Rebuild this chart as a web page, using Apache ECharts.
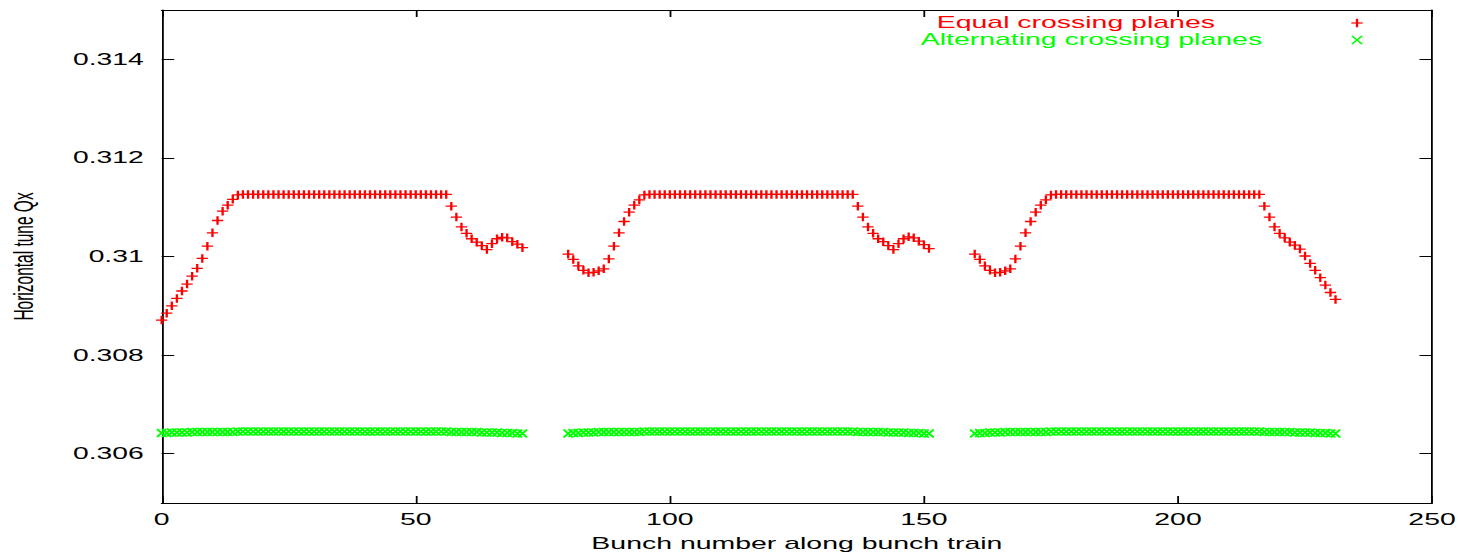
<!DOCTYPE html>
<html><head><meta charset="utf-8">
<script src="https://cdn.jsdelivr.net/npm/echarts@6/dist/echarts.min.js"></script>
<style>
html,body{margin:0;padding:0;background:#fff;overflow:hidden;}
#wrap{width:1458px;height:553px;overflow:hidden;position:relative;background:#fff;}
#chart{width:810px;height:553px;transform:scaleX(1.8);transform-origin:0 0;}
</style></head><body><div id="wrap"><div id="chart"></div></div>
<script>
// ---------------- data ----------------
const seriesNames = ['Equal crossing planes', 'Alternating crossing planes'];
const trainStarts = [0, 80, 160];

const equalTrain1 = [
  0.30871,0.30885,0.30900,0.30915,0.30930,0.30944,0.30960,0.30976,0.30996,0.31021,0.31048,0.31073,
  0.31092,0.31104,0.31116,0.31125,0.31126,0.31126,0.31126,0.31126,0.31126,0.31126,0.31126,0.31126,
  0.31126,0.31126,0.31126,0.31126,0.31126,0.31126,0.31126,0.31126,0.31126,0.31126,0.31126,0.31126,
  0.31126,0.31126,0.31126,0.31126,0.31126,0.31126,0.31126,0.31126,0.31126,0.31126,0.31126,0.31126,
  0.31126,0.31126,0.31126,0.31126,0.31126,0.31126,0.31126,0.31126,0.31126,0.31102,0.31080,0.31060,
  0.31047,0.31036,0.31029,0.31022,0.31014,0.31026,0.31036,0.31039,0.31038,0.31030,0.31025,0.31018
];
const equalTrain2 = [
  0.31005,0.30994,0.30981,0.30972,0.30967,0.30968,0.30971,0.30975,0.30995,0.31021,0.31048,0.31071,
  0.31090,0.31104,0.31115,0.31125,0.31126,0.31126,0.31126,0.31126,0.31126,0.31126,0.31126,0.31126,
  0.31126,0.31126,0.31126,0.31126,0.31126,0.31126,0.31126,0.31126,0.31126,0.31126,0.31126,0.31126,
  0.31126,0.31126,0.31126,0.31126,0.31126,0.31126,0.31126,0.31126,0.31126,0.31126,0.31126,0.31126,
  0.31126,0.31126,0.31126,0.31126,0.31126,0.31126,0.31126,0.31126,0.31126,0.31102,0.31080,0.31060,
  0.31047,0.31036,0.31030,0.31022,0.31014,0.31026,0.31036,0.31040,0.31038,0.31031,0.31024,0.31016
];
const equalTrain3 = [
  0.31005,0.30994,0.30981,0.30972,0.30967,0.30968,0.30971,0.30975,0.30995,0.31021,0.31048,0.31071,
  0.31090,0.31104,0.31115,0.31125,0.31126,0.31126,0.31126,0.31126,0.31126,0.31126,0.31126,0.31126,
  0.31126,0.31126,0.31126,0.31126,0.31126,0.31126,0.31126,0.31126,0.31126,0.31126,0.31126,0.31126,
  0.31126,0.31126,0.31126,0.31126,0.31126,0.31126,0.31126,0.31126,0.31126,0.31126,0.31126,0.31126,
  0.31126,0.31126,0.31126,0.31126,0.31126,0.31126,0.31126,0.31126,0.31126,0.31102,0.31080,0.31060,
  0.31047,0.31038,0.31029,0.31023,0.31015,0.31001,0.30986,0.30972,0.30957,0.30942,0.30927,0.30913
];

const altTrain1 = [
  0.30642,0.30642,0.30643,0.30643,0.30643,0.30643,0.30644,0.30644,0.30644,0.30644,0.30644,0.30644,
  0.30644,0.30644,0.30644,0.30645,0.30645,0.30645,0.30645,0.30645,0.30645,0.30645,0.30645,0.30645,
  0.30645,0.30645,0.30645,0.30645,0.30645,0.30645,0.30645,0.30645,0.30645,0.30645,0.30645,0.30645,
  0.30645,0.30645,0.30645,0.30645,0.30645,0.30645,0.30645,0.30645,0.30645,0.30645,0.30645,0.30645,
  0.30645,0.30645,0.30645,0.30645,0.30645,0.30645,0.30645,0.30645,0.30645,0.30644,0.30644,0.30644,
  0.30644,0.30644,0.30644,0.30643,0.30643,0.30643,0.30643,0.30642,0.30642,0.30642,0.30641,0.30641
];
const altTrain2 = [
  0.30641,0.30642,0.30642,0.30643,0.30643,0.30643,0.30644,0.30644,0.30644,0.30644,0.30644,0.30644,
  0.30644,0.30644,0.30644,0.30645,0.30645,0.30645,0.30645,0.30645,0.30645,0.30645,0.30645,0.30645,
  0.30645,0.30645,0.30645,0.30645,0.30645,0.30645,0.30645,0.30645,0.30645,0.30645,0.30645,0.30645,
  0.30645,0.30645,0.30645,0.30645,0.30645,0.30645,0.30645,0.30645,0.30645,0.30645,0.30645,0.30645,
  0.30645,0.30645,0.30645,0.30645,0.30645,0.30645,0.30645,0.30645,0.30645,0.30644,0.30644,0.30644,
  0.30644,0.30644,0.30644,0.30643,0.30643,0.30643,0.30643,0.30642,0.30642,0.30642,0.30641,0.30641
];
const altTrain3 = [
  0.30641,0.30642,0.30642,0.30643,0.30643,0.30643,0.30644,0.30644,0.30644,0.30644,0.30644,0.30644,
  0.30644,0.30644,0.30644,0.30645,0.30645,0.30645,0.30645,0.30645,0.30645,0.30645,0.30645,0.30645,
  0.30645,0.30645,0.30645,0.30645,0.30645,0.30645,0.30645,0.30645,0.30645,0.30645,0.30645,0.30645,
  0.30645,0.30645,0.30645,0.30645,0.30645,0.30645,0.30645,0.30645,0.30645,0.30645,0.30645,0.30645,
  0.30645,0.30645,0.30645,0.30645,0.30645,0.30645,0.30645,0.30645,0.30645,0.30644,0.30644,0.30644,
  0.30644,0.30644,0.30644,0.30643,0.30643,0.30643,0.30643,0.30642,0.30642,0.30642,0.30641,0.30641
];

const yTickValues = [0.306, 0.308, 0.310, 0.312, 0.314];
const xTickValues = [0, 50, 100, 150, 200, 250];
const xAxisTitle = 'Bunch number along bunch train';
const yAxisTitle = 'Horizontal tune Qx';

// ---------------- build ----------------
function toPoints(start, values) { return values.map((v, i) => [start + i, v]); }
const equalData = [].concat(
  toPoints(trainStarts[0], equalTrain1),
  toPoints(trainStarts[1], equalTrain2),
  toPoints(trainStarts[2], equalTrain3));
const altData = [].concat(
  toPoints(trainStarts[0], altTrain1),
  toPoints(trainStarts[1], altTrain2),
  toPoints(trainStarts[2], altTrain3));

const FONT = '"Liberation Sans", Arial, Helvetica, sans-serif';
const RED = '#ff0000', GREEN = '#00ff00';
const PLUS = 'path://M0,3.4H6.3V4.6H0Z M2.5,0H3.8V8H2.5Z';
const CROSS = 'path://M0,0L1.6,0L10,8.6L10,10L8.4,10L0,1.4Z M10,0L10,1.4L1.6,10L0,10L0,8.6L8.4,0Z';

const chart = echarts.init(document.getElementById('chart'), null, { renderer: 'svg' });
const fmt = v => String(+(+v).toFixed(3));
const axisCommon = {
  axisLine: { show: true, onZero: false, lineStyle: { color: '#000', width: 1 } },
  splitLine: { show: false }
};
const option = {
  animation: false,
  backgroundColor: '#fff',
  grid: { left: 89.8, right: 14.4, top: 10, bottom: 50, containLabel: false, outerBoundsMode: 'none' },
  xAxis: [
    Object.assign({}, axisCommon, {
      type: 'value', position: 'bottom', min: xTickValues[0], max: xTickValues[xTickValues.length - 1], interval: 50,
      axisTick: { show: true, inside: true, length: 7, lineStyle: { color: '#000', width: 1 } },
      axisLabel: { show: true, color: '#000', fontSize: 15.8, fontFamily: FONT, margin: 9 },
      name: xAxisTitle, nameLocation: 'middle', nameGap: 33,
      nameTextStyle: { color: '#000', fontSize: 15.8, fontFamily: FONT }
    }),
    Object.assign({}, axisCommon, {
      type: 'value', position: 'top', min: 0, max: 250, interval: 50,
      axisTick: { show: true, inside: true, length: 7, lineStyle: { color: '#000', width: 1 } },
      axisLabel: { show: false }
    })
  ],
  yAxis: [
    Object.assign({}, axisCommon, {
      type: 'value', position: 'left', min: 0.305, max: 0.315,
      axisTick: { show: true, inside: true, length: 7, customValues: yTickValues, lineStyle: { color: '#000', width: 1 } },
      axisLabel: { show: true, color: '#000', fontSize: 15.7, fontFamily: FONT, margin: 10, customValues: yTickValues, formatter: fmt },
      name: yAxisTitle, nameLocation: 'middle', nameGap: 68.5, nameRotate: 90,
      nameTextStyle: { color: '#000', fontSize: 15.5, fontFamily: FONT }
    }),
    Object.assign({}, axisCommon, {
      type: 'value', position: 'right', min: 0.305, max: 0.315,
      axisTick: { show: true, inside: true, length: 7, customValues: yTickValues, lineStyle: { color: '#000', width: 1 } },
      axisLabel: { show: false, customValues: yTickValues }
    })
  ],
  series: [
    {
      name: seriesNames[0], type: 'scatter', xAxisIndex: 0, yAxisIndex: 0,
      data: equalData, symbol: PLUS, symbolSize: [6.3, 8.5],
      itemStyle: { color: RED, opacity: 1 }, emphasis: { disabled: true }, silent: true
    },
    {
      name: seriesNames[1], type: 'scatter', xAxisIndex: 0, yAxisIndex: 0,
      data: altData, symbol: CROSS, symbolSize: [5.6, 8.3],
      itemStyle: { color: GREEN, opacity: 1 }, emphasis: { disabled: true }, silent: true
    }
  ],
  graphic: [
    { type: 'text', x: 520.4, y: 23, silent: true,
      style: { text: seriesNames[0], fill: RED, fontSize: 15.8, fontFamily: FONT, align: 'left', verticalAlign: 'middle' } },
    { type: 'text', x: 511.5, y: 40, silent: true,
      style: { text: seriesNames[1], fill: GREEN, fontSize: 15.8, fontFamily: FONT, align: 'left', verticalAlign: 'middle' } },
    { type: 'rect', silent: true, shape: { x: 750.75, y: 22.4, width: 6.3, height: 1.2 }, style: { fill: RED } },
    { type: 'rect', silent: true, shape: { x: 753.25, y: 18.75, width: 1.3, height: 8.5 }, style: { fill: RED } },
    { type: 'line', silent: true, shape: { x1: 751.1, y1: 35.85, x2: 756.7, y2: 44.15 }, style: { stroke: GREEN, lineWidth: 1 } },
    { type: 'line', silent: true, shape: { x1: 756.7, y1: 35.85, x2: 751.1, y2: 44.15 }, style: { stroke: GREEN, lineWidth: 1 } }
  ]
};
chart.setOption(option);
</script></body></html>
